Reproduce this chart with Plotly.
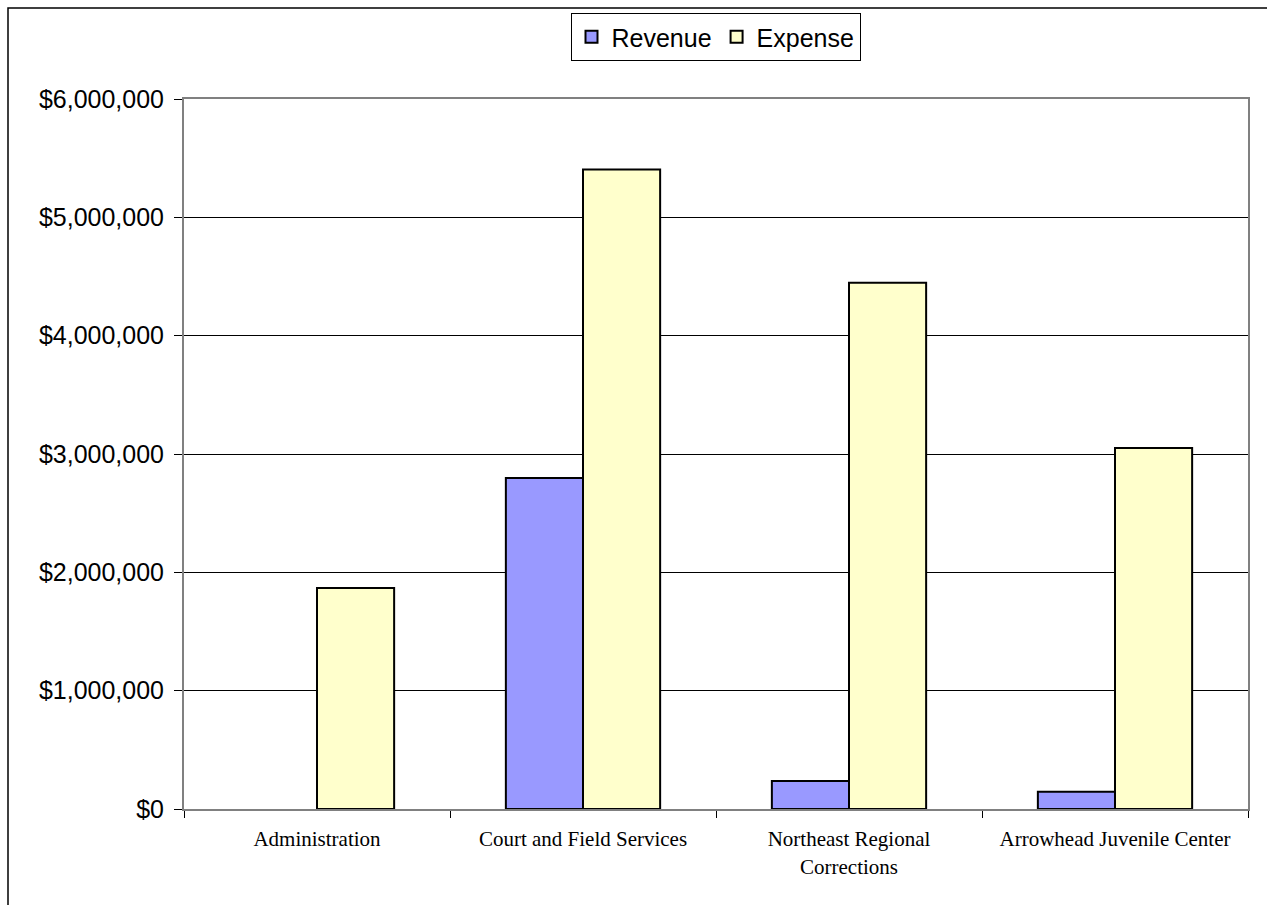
import plotly.graph_objects as go

categories = ["Administration", "Court and Field Services", "Northeast Regional<br>Corrections", "Arrowhead Juvenile Center"]
revenue = [0, 2797000, 237000, 146000]
expense = [1868000, 5405000, 4448000, 3050000]
y_ticks = [0, 1000000, 2000000, 3000000, 4000000, 5000000, 6000000]

fig = go.Figure()
# zero-height bars are not drawn (no outline), as in the reference
fig.add_trace(go.Bar(name="Revenue", x=categories, y=[v if v else None for v in revenue],
                     marker=dict(color="#9999FF", line=dict(color="#000000", width=2))))
fig.add_trace(go.Bar(name="Expense", x=categories, y=[v if v else None for v in expense],
                     marker=dict(color="#FFFFCC", line=dict(color="#000000", width=2))))

L, R, T, B = 184, 19, 99, 96
W, H = 1267, 905
pw, ph = W - L - R, H - T - B

def px2paper_x(px):
    return (px - L) / pw

def px2paper_y(py):
    return (H - B - py) / ph

fig.update_layout(
    width=W, height=H,
    margin=dict(l=L, r=R, t=T, b=B, autoexpand=False),
    paper_bgcolor="white", plot_bgcolor="white",
    barmode="group", bargap=0.42, bargroupgap=0,
    font=dict(family="Liberation Sans, Arial", color="black"),
    showlegend=True,
    legend=dict(orientation="h", x=px2paper_x(715.5), xanchor="center",
                y=px2paper_y(13), yanchor="top",
                bordercolor="black", borderwidth=1,
                font=dict(size=25, family="Liberation Sans, Arial"),
                itemwidth=30, tracegroupgap=0),
    xaxis=dict(showgrid=False, showline=True, linecolor="#808080", linewidth=2,
               mirror=True, ticks="outside", tickson="boundaries", ticklen=7,
               tickcolor="black", tickwidth=1, ticklabelstandoff=10,
               tickfont=dict(family="Liberation Serif, Times New Roman", size=21)),
    yaxis=dict(range=[0, 6000000], tickvals=y_ticks, tickformat="$,.0f",
               showgrid=True, gridcolor="black", gridwidth=1,
               showline=True, linecolor="#808080", linewidth=2, mirror=True,
               ticks="outside", ticklen=8, tickcolor="black", tickwidth=1,
               ticklabelstandoff=5,
               tickfont=dict(size=25, family="Liberation Sans, Arial"),
               zeroline=False),
    shapes=[dict(type="rect", xref="paper", yref="paper",
                 x0=px2paper_x(8), x1=px2paper_x(1300),
                 y0=px2paper_y(950), y1=px2paper_y(8),
                 line=dict(color="black", width=1.5), fillcolor="rgba(0,0,0,0)",
                 layer="below")],
)

fig.write_html("out.html")
